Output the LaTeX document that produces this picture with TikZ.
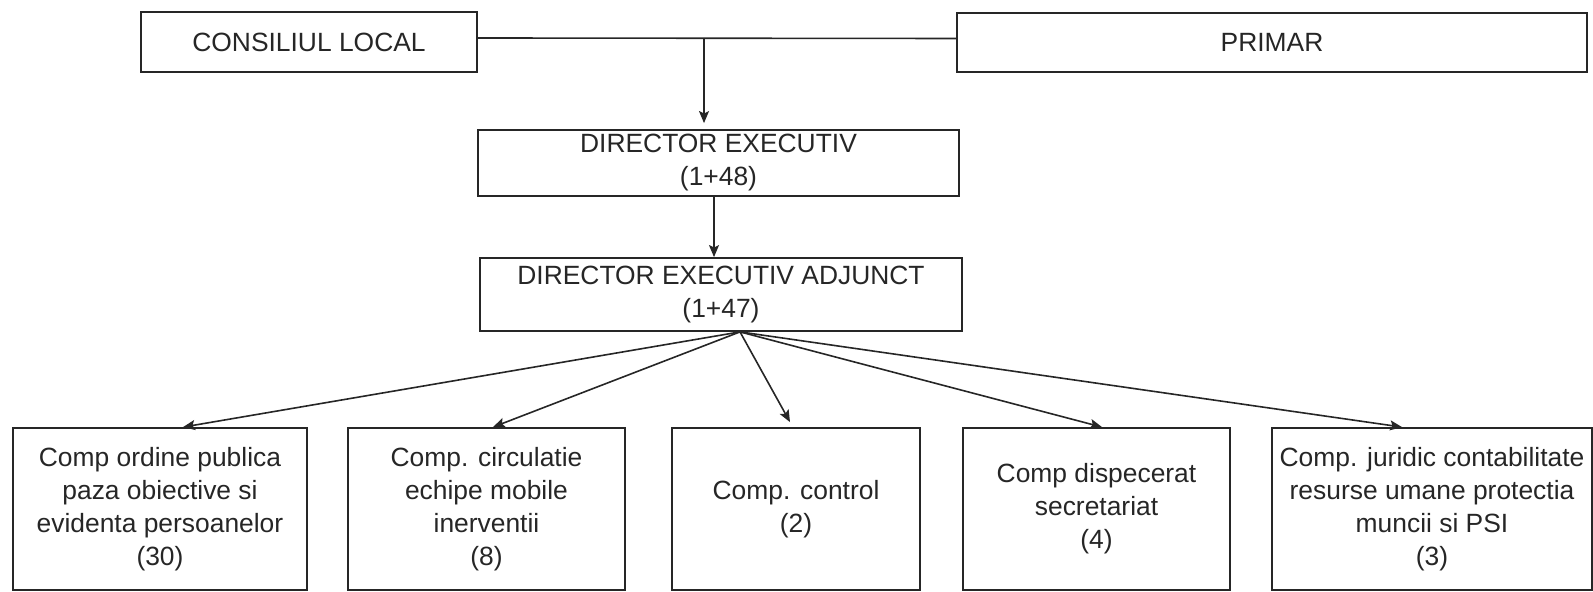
\documentclass[tikz,border=0pt]{standalone}
\usepackage{fontspec}
\setmainfont{Liberation Sans}
\usetikzlibrary{arrows.meta}

\begin{document}
\begin{tikzpicture}[x=0.5pt,y=-0.5pt,
  >={Stealth[length=6pt,width=5pt,inset=1.2pt]},
  box/.style={draw=black!85,line width=0.9pt,inner sep=0pt,align=center,
    text=black!85,font=\fontsize{13.2}{16.5}\selectfont},
  unit/.style={box,minimum height=81pt}]
  \useasboundingbox (0,0) rectangle (1593,592);

  \node[box,minimum width=168pt,minimum height=30pt] (cl) at (309,42) {CONSILIUL LOCAL};
  \node[box,minimum width=315pt,minimum height=29.5pt] (primar) at (1272,42.5) {PRIMAR};
  \node[box,minimum width=240.5pt,minimum height=33pt] (dir) at (718.5,163) {DIRECTOR EXECUTIV\\(1+48)};
  \node[box,minimum width=241pt,minimum height=36.5pt] (adj) at (721,294.5) {DIRECTOR EXECUTIV ADJUNCT\\(1+47)};

  \node[unit,minimum width=147pt] (b1) at (160,509) {Comp ordine publica\\paza obiective si\\evidenta persoanelor\\(30)};
  \node[unit,minimum width=138.5pt] (b2) at (486.5,509) {Comp. circulatie\\echipe mobile\\inerventii\\(8)};
  \node[unit,minimum width=124pt] (b3) at (796,509) {Comp. control\\(2)};
  \node[unit,minimum width=133.5pt] (b4) at (1096.5,509) {Comp dispecerat\\secretariat\\(4)};
  \node[unit,minimum width=160pt] (b5) at (1432,509) {Comp. juridic contabilitate\\resurse umane protectia\\muncii si PSI\\(3)};

  \coordinate (split) at ([xshift=-7.25pt,yshift=2pt]dir.north |- cl.east);
  \coordinate (fan) at ([xshift=9.5pt]adj.south);

  \draw[black!85,line width=0.8pt] ([yshift=2pt]cl.east) -- ([yshift=2pt]primar.west);

  \path[->,black!85,line width=0.8pt]
    (split) edge ([yshift=3pt]split |- dir.north)
    ([xshift=-2.25pt]dir.south) edge ([xshift=-2.25pt]dir.south |- adj.north)
    (fan) edge ([xshift=11.5pt]b1.north)
    (fan) edge ([xshift=3.25pt]b2.north)
    (fan) edge ([xshift=-3pt,yshift=2.5pt]b3.north)
    (fan) edge ([xshift=2.75pt]b4.north)
    (fan) edge ([xshift=-15pt]b5.north);
\end{tikzpicture}
\end{document}
